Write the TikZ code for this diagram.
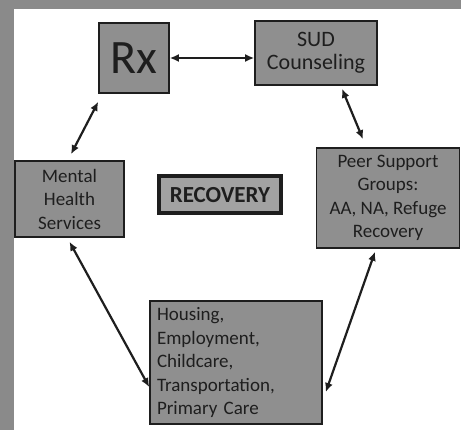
\documentclass[tikz,border=0pt]{standalone}
\usepackage{fontspec}
\setmainfont{Carlito}
\usetikzlibrary{arrows.meta}
\definecolor{framegray}{HTML}{8A8A8A}
\definecolor{boxgray}{HTML}{8F8F8F}
\definecolor{tagray}{HTML}{A2A2A2}
\definecolor{ink}{HTML}{1E1E1E}
\begin{document}
\begin{tikzpicture}[x=1pt,y=-1pt,
    box/.style={draw=ink,line width=1.6pt,fill=boxgray,text=ink,align=center,
      inner sep=2pt,font=\fontsize{19}{23.5}\selectfont},
    tag/.style={draw=ink,line width=4pt,fill=tagray,text=ink,
      font=\fontsize{23}{23}\selectfont\bfseries},
    link/.style={{Latex[length=9pt,width=8pt]}-{Latex[length=9pt,width=8pt]},
      line width=2.2pt,draw=ink}]
  \useasboundingbox (0,0) rectangle (461,430);
  \fill[framegray] (0,0) rectangle (461,430);
  \fill[white] (14,9) rectangle (461,430);
  \draw
    (134,58) node[box,minimum width=70pt,minimum height=70pt,
      font=\fontsize{48}{48}\selectfont] (rx){Rx}
    (316,53) node[box,minimum width=122pt,minimum height=64pt,
      font=\fontsize{22}{23.5}\selectfont] (sud){SUD\\Counseling}
    (388,198) node[box,minimum width=143pt,minimum height=100pt] (peer)
      {Peer Support\\Groups:\\AA, NA, Refuge\\Recovery}
    (236,362.5) node[box,minimum height=123pt,inner xsep=7pt,text width=158pt,
      align=left] (needs)
      {Housing,\\Employment,\\Childcare,\\Transportation,\\Primary Care}
    (69.5,199) node[box,minimum width=109pt,minimum height=76pt] (mental)
      {Mental\\Health\\Services}
    (220,195) node[tag,minimum width=122pt,minimum height=37pt] (recovery){RECOVERY};
  \begin{scope}[link]
    \draw (rx.east) to (rx.east -| sud.west);
    \draw ([yshift=-8pt]rx.south west) to ([xshift=1.5pt,yshift=6pt]mental.north);
    \draw ([xshift=26pt,yshift=-3pt]sud.south) to ([xshift=-25pt,yshift=8pt]peer.north);
    \draw ([yshift=-4pt]mental.south) to ([yshift=-24.5pt]needs.west);
    \draw ([xshift=-13pt,yshift=-3pt]peer.south) to ([xshift=3pt,yshift=-29.5pt]needs.east);
  \end{scope}
\end{tikzpicture}
\end{document}
